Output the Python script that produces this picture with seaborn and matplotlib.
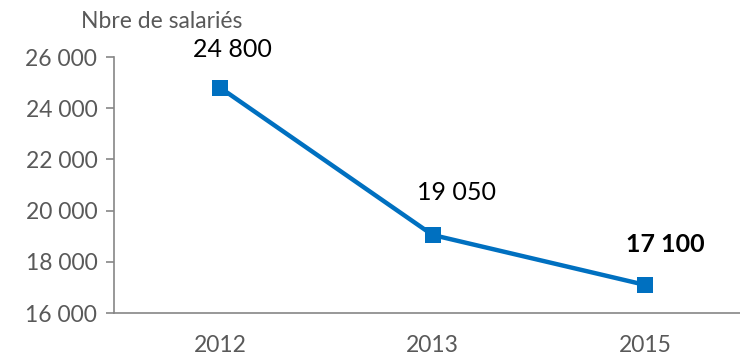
import matplotlib
matplotlib.use("Agg")
import matplotlib.pyplot as plt
import seaborn as sns
import pandas as pd
from matplotlib.ticker import FixedLocator, FuncFormatter

years = ["2012", "2013", "2015"]
salaries = [24800, 19050, 17100]
label_bold = [False, False, True]

y_ticks = [16000, 18000, 20000, 22000, 24000, 26000]

sns.set_style("white")
plt.rcParams["font.family"] = ["Lato", "DejaVu Sans"]

BLUE = "#0070C0"
GREY = "#595959"
AXIS = "#868686"
TICK_SIZE = 16.5
LABEL_SIZE = 18

df = pd.DataFrame({"year": years, "salaries": salaries})
df["pos"] = range(len(years))

fig = plt.figure(figsize=(7.4, 3.58), dpi=100)
ax = fig.add_axes([114 / 740, 1 - 313 / 358, 637 / 740, 256 / 358])

sns.lineplot(data=df, x="pos", y="salaries", ax=ax, color=BLUE, linewidth=3.2,
             marker="s", markersize=11, markeredgecolor=BLUE, markeredgewidth=0,
             clip_on=False, zorder=3)

ax.set_xlim(-0.5, len(years) - 0.5)
ax.set_ylim(16000, 26000)

ax.xaxis.set_major_locator(FixedLocator(list(range(len(years)))))
ax.set_xticklabels(years)
ax.xaxis.set_minor_locator(FixedLocator([i - 0.5 for i in range(len(years) + 1)]))
ax.tick_params(axis="x", which="major", length=0, pad=15.5, labelsize=TICK_SIZE, colors=GREY)
ax.tick_params(axis="x", which="minor", length=6, width=1.2, color=AXIS, direction="out")

ax.set_yticks(y_ticks)
ax.yaxis.set_major_formatter(FuncFormatter(lambda v, p: f"{int(v):,}".replace(",", " ")))
ax.tick_params(axis="y", which="major", length=6, width=1.2, color=AXIS,
               direction="out", pad=6, labelsize=TICK_SIZE, labelcolor=GREY)
ax.tick_params(left=True, bottom=False)

for side in ["top", "right"]:
    ax.spines[side].set_visible(False)
for side in ["left", "bottom"]:
    ax.spines[side].set_color(AXIS)
    ax.spines[side].set_linewidth(1.2)

ax.set_xlabel("")
ax.set_ylabel("")

# value labels above each point (offsets in pixels)
label_offsets = [(12, 38), (24, 42), (20, 40)]
for i, (v, bold) in enumerate(zip(salaries, label_bold)):
    dx, dy = label_offsets[i]
    ax.annotate(f"{v:,}".replace(",", " "), xy=(i, v), xytext=(dx * 0.72, dy * 0.72),
                textcoords="offset points", ha="center", va="center",
                fontsize=LABEL_SIZE, color="black", fontweight="bold" if bold else "normal")

fig.text(162 / 740, 1 - 22 / 358, "Nbre de salariés", ha="center", va="center",
         fontsize=TICK_SIZE, color=GREY)

fig.savefig("out.png", dpi=100)
